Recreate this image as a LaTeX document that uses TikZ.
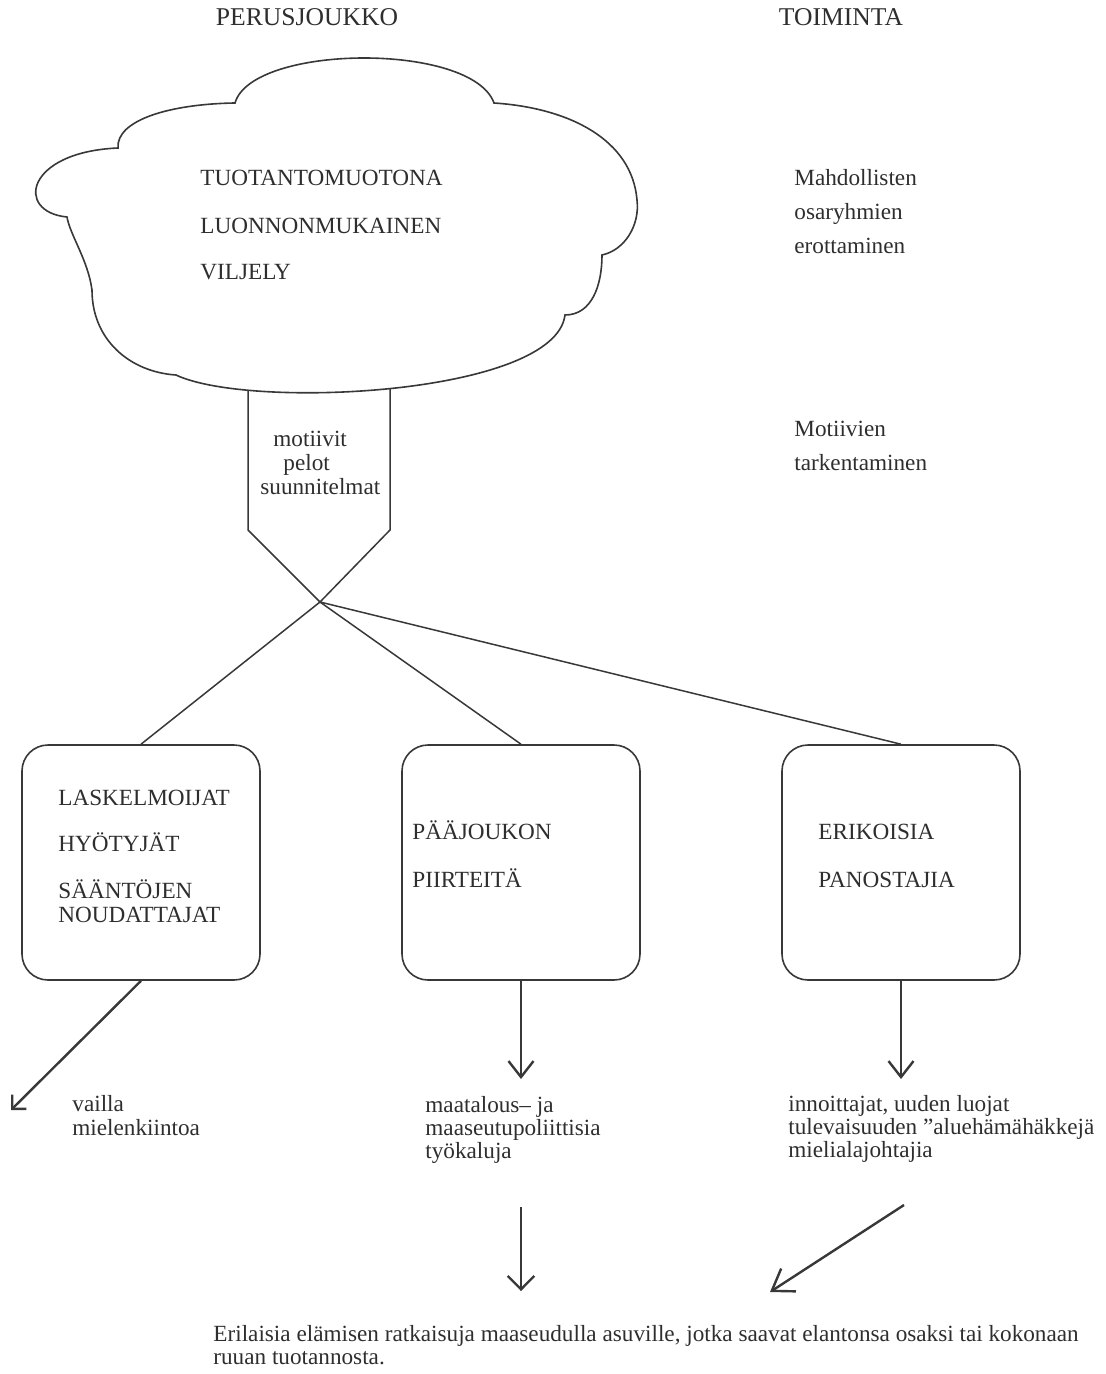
\documentclass[tikz,border=0pt]{standalone}
\usepackage{fontspec}
\setmainfont{Liberation Serif}
\usetikzlibrary{arrows.meta}
\definecolor{ink}{HTML}{2E2E2E}
\definecolor{linec}{HTML}{383838}
\begin{document}
\begin{tikzpicture}[x=0.5pt,y=-0.5pt,
  txt/.style={anchor=base west,inner sep=0pt,text=ink,font=\fontsize{11.6}{12}\selectfont},
  ttl/.style={anchor=base,inner sep=0pt,text=ink,font=\fontsize{12.8}{13}\selectfont},
  boxnode/.style={draw=linec,line width=0.8pt,rounded corners=13pt,minimum width=119pt,minimum height=117.5pt,inner sep=0pt},
  conn/.style={draw=linec,line width=0.75pt},
  arr/.style={draw=linec,line width=1.2pt},
]
\useasboundingbox (0,0) rectangle (1106,1374);

% titles
\node[ttl] (t1) at (307,26) {PERUSJOUKKO};
\node[ttl] (t2) at (841,26) {TOIMINTA};

% funnel
\coordinate (ftl) at (248,370);
\coordinate (ftr) at (390,370);
\coordinate (fl) at (248,530);
\coordinate (fr) at (390,530);
\coordinate (x) at (320,602);
\draw[conn] (ftl) -- (fl) -- (x) -- (fr) -- (ftr);

% cloud
\draw[linec, line width=0.8pt, fill=white]
 (118,148) .. controls (116,120) and (170,104) .. (235,103)
 .. controls (252,44) and (472,42) .. (494,103)
 .. controls (570,108) and (632,140) .. (637,200)
 .. controls (640,225) and (625,250) .. (602,255)
 .. controls (602,285) and (592,315) .. (565,315)
 .. controls (555,395) and (250,410) .. (176,375)
 .. controls (130,372) and (92,340) .. (92,290)
 .. controls (88,260) and (70,235) .. (67,217)
 .. controls (15,212) and (25,152) .. (118,148) -- cycle;

\node[txt] (c1) at (200,186) {TUOTANTOMUOTONA};
\node[txt] (c2) at (200,234) {LUONNONMUKAINEN};
\node[txt] (c3) at (200,280) {VILJELY};

% funnel text
\node[txt] (m1) at (273,446) {motiivit};
\node[txt] (m2) at (283,470) {pelot};
\node[txt] (m3) at (260,494) {suunnitelmat};

% right column
\node[txt] (r1) at (794,186) {Mahdollisten};
\node[txt] (r2) at (794,220) {osaryhmien};
\node[txt] (r3) at (794,254) {erottaminen};
\node[txt] (r4) at (794,436) {Motiivien};
\node[txt] (r5) at (794,470) {tarkentaminen};

% boxes
\node[boxnode] (b1) at (141,862.5) {};
\node[boxnode] (b2) at (521,862.5) {};
\node[boxnode] (b3) at (901,862.5) {};

\node[txt] (b1a) at (58,805) {LASKELMOIJAT};
\node[txt] (b1b) at (58,851) {HYÖTYJÄT};
\node[txt] (b1c) at (58,898) {SÄÄNTÖJEN};
\node[txt] (b1d) at (58,922) {NOUDATTAJAT};
\node[txt] (b2a) at (412,839) {PÄÄJOUKON};
\node[txt] (b2b) at (412,887) {PIIRTEITÄ};
\node[txt] (b3a) at (818,839) {ERIKOISIA};
\node[txt] (b3b) at (818,887) {PANOSTAJIA};

% connectors from crossing
\draw[conn] (x) -- (b1.north);
\draw[conn] (x) -- (b2.north);
\draw[conn] (x) -- (b3.north);

% arrows from boxes
\coordinate (e1) at (11,1110);
\coordinate (e2) at (521,1079);
\coordinate (e3) at (901,1079);
\draw[arr,-{Straight Barb[length=5pt,width=10pt]}] (b1.south) -- (e1);
\draw[arr,-{Straight Barb[length=8pt,width=12.5pt]}] (b2.south) -- (e2);
\draw[arr,-{Straight Barb[length=8pt,width=12.5pt]}] (b3.south) -- (e3);

% outcome texts
\node[txt] (o1a) at (72,1111) {vailla};
\node[txt] (o1b) at (72,1135) {mielenkiintoa};
\node[txt] (o2a) at (425,1112) {maatalous– ja};
\node[txt] (o2b) at (425,1135) {maaseutupoliittisia};
\node[txt] (o2c) at (425,1158) {työkaluja};
\node[txt] (o3a) at (788,1111) {innoittajat, uuden luojat};
\node[txt] (o3b) at (788,1134) {tulevaisuuden \symbol{34}aluehämähäkkejä};
\node[txt] (o3c) at (788,1157) {mielialajohtajia};

% lower arrows
\coordinate (s4) at (521,1207);
\coordinate (e4) at (521,1291);
\coordinate (s5) at (904,1205);
\coordinate (e5) at (770,1292);
\draw[arr,-{Straight Barb[length=6.7pt,width=13.3pt]}] (s4) -- (e4);
\draw[arr,-{Straight Barb[length=10pt,width=13.6pt]}] (s5) -- (e5);

% bottom text
\node[txt] (f1) at (213,1341) {Erilaisia elämisen ratkaisuja maaseudulla asuville, jotka saavat elantonsa osaksi tai kokonaan};
\node[txt] (f2) at (213,1364) {ruuan tuotannosta.};
\end{tikzpicture}
\end{document}
